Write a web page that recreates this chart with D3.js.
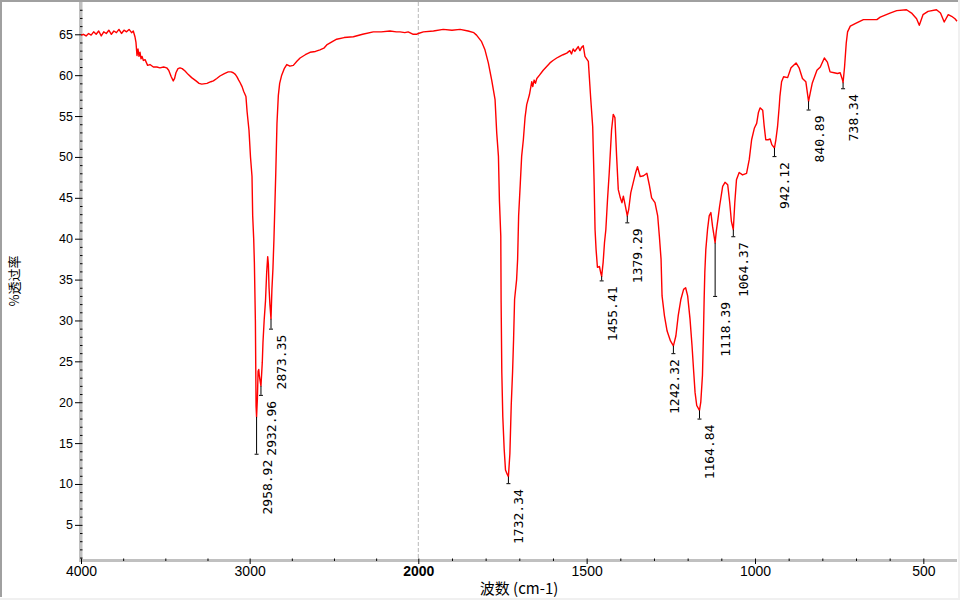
<!DOCTYPE html>
<html><head><meta charset="utf-8">
<script src="https://cdn.jsdelivr.net/npm/d3@7"></script>
<style>html,body{margin:0;padding:0;background:#fff;}svg{display:block;}</style>
</head><body>
<svg id="chart" width="960" height="600"></svg>
<script>
// ---- data ----
const wavenumbers = [
 4000,3985,3970,3955,3940,3925,3910,3895,3880,3865,3850,3835,3820,3805,3790,3775,3760,3745,3730,3715,3700,3690,
 3680,3674,3668,3662,3656,3650,3644,3638,3630,3620,3605,3591,3571,3550,3532,3510,3492,3480,3465,3453,3445,3437,
 3425,3413,3400,3383,3365,3344,3318,3300,3284,3253,3230,3215,3195,3176,3150,3127,3110,3097,3085,3075,3065,3057,
 3045,3035,3022,3015,3004,2995,2986,2982,2976,2972,2966,2962,2958.92,2954,2950,2946,2943,2938,2932.96,2925,2921,
 2914,2906,2899,2893,2889,2885,2880,2873.35,2868,2862,2856,2850,2845,2838,2830,2822,2810,2795,2780,2761,2741,2720,
 2701,2670,2642,2610,2583,2560,2543,2510,2484,2440,2385,2330,2267,2220,2168,2130,2108,2080,2060,2030,2010,
 2000,1985,1955,1926,1900,1876,1852,1835,1827,1812,1802,1792,1782,1772,1767,1762,1759,1755,1754,1752,1749,1745,
 1741,1736,1732.34,1728,1724,1720,1717,1714,1708,1705,1702,1697,1693,1688,1683,1678,1670,1666,1663,1660,1656,1652,
 1648,1640,1629,1620,1609,1600,1589,1580,1570,1559,1550,1545,1540,1535,1530,1525,1520,1515,1510,1505,1495,1488,
 1482,1478,1475,1472,1468,1462,1458,1455.41,1451,1447,1443,1438,1433,1426,1421,1416,1411,1406,1400,1395,1391,1386,
 1379.29,1375,1369,1362,1355,1349,1341,1331,1321,1314,1307,1297,1289,1284,1279,1276,1269,1261,1251,1242.32,1235,
 1228,1220,1212,1206,1200,1193,1187,1182,1178,1173,1164.84,1161,1156,1153,1151,1149,1146,1141,1136,1131,1126,
 1118.39,1115,1110,1105,1096,1089,1081,1075,1070,1064.37,1060,1055,1047,1037,1025,1017,1010,1002,995,990,985,977,
 973,968,961,955,950,942.12,938,933,928,926,921,915,903,893,878,869,859,849,840.89,836,830,823,816,806,794,785,777,
 765,755,747,740,738.34,734,729,725,717,698,678,638,628,599,579,550,535,520,512,501,486,461,449,438,426,416,406,400
];
const transmittance = [
 64.9,65.0,64.8,65.1,64.9,65.3,65.0,65.4,64.8,65.3,65.1,65.5,65.0,65.4,65.2,65.6,65.1,65.5,65.3,65.6,65.2,65.4,
 64.7,64.0,62.4,63.2,62.3,62.8,62.0,62.3,61.8,61.9,61.2,61.3,61.0,61.0,60.9,61.0,60.9,60.6,59.8,59.3,59.6,60.3,
 60.8,60.9,60.8,60.5,60.1,59.7,59.3,59.0,58.9,59.0,59.2,59.3,59.6,59.9,60.2,60.4,60.4,60.3,60.1,59.8,59.4,59.1,
 58.6,58.0,57.4,55.5,53.3,50.0,47.6,42.8,40.0,37.1,30.0,19.5,18.2,20.5,23.8,24.0,23.3,22.6,22.0,24.9,27.3,
 30.0,32.4,35.9,37.8,36.9,34.0,32.0,30.2,33.8,36.3,39.9,44.4,48.1,54.1,57.5,59.0,60.0,60.8,61.3,61.1,61.2,61.7,
 62.1,62.5,62.8,62.9,63.1,63.3,63.7,64.1,64.4,64.6,64.7,65.0,65.3,65.3,65.4,65.3,65.3,65.2,65.3,65.0,65.0,
 65.1,65.3,65.4,65.6,65.5,65.6,65.4,65.2,64.9,64.1,63.1,61.5,59.4,57.0,52.9,50.1,44.6,40.3,32.2,23.7,18.2,14.3,
 11.7,11.2,10.9,13.7,19.6,23.7,27.7,32.6,35.0,37.5,42.8,46.8,50.1,52.1,54.8,56.4,57.6,58.5,59.2,58.6,59.4,59.0,
 59.6,60.0,60.6,61.0,61.5,61.8,62.1,62.3,62.5,62.7,63.0,62.6,63.2,62.9,63.2,63.5,63.0,63.4,63.6,62.3,61.7,57.2,
 53.7,47.2,41.1,38.7,36.5,36.6,35.8,35.4,37.1,39.5,41.1,44.8,48.0,53.3,55.2,54.8,50.1,46.0,45.0,44.4,45.2,44.2,
 42.8,43.6,45.6,46.8,48.0,48.8,47.6,47.7,48.0,46.6,45.0,44.4,42.8,40.3,37.5,33.0,30.6,28.7,27.5,26.9,28.1,
 30.6,32.6,33.8,34.0,33.0,30.2,26.9,23.7,21.2,19.6,19.0,20.0,23.3,28.5,32.6,35.9,38.7,41.1,42.8,43.2,41.5,
 39.5,40.9,42.4,44.0,46.4,46.9,46.6,44.4,42.1,41.1,44.4,47.2,48.1,47.8,48.0,49.7,52.1,53.5,54.1,55.4,56.0,55.7,
 53.9,52.1,52.1,52.2,51.5,51.1,52.1,53.7,56.2,57.4,59.2,59.8,59.7,60.9,61.5,60.9,59.6,59.2,56.8,57.8,59.0,59.8,60.6,61.0,62.1,61.6,60.4,
 60.3,60.2,60.3,59.4,59.1,61.0,63.9,65.3,66.0,66.4,66.8,66.8,67.1,67.6,67.9,68.0,67.6,66.9,66.1,67.4,67.8,68.0,67.6,66.5,67.4,67.2,66.9,66.6
];
const peakWavenumbers = [2958.92, 2932.96, 2873.35, 1732.34, 1455.41, 1379.29, 1242.32, 1164.84, 1118.39, 1064.37, 942.12, 840.89, 738.34];
const peakLabels = ["2958.92","2932.96","2873.35","1732.34","1455.41","1379.29","1242.32","1164.84","1118.39","1064.37","942.12","840.89","738.34"];
const peakMarkValues = [13.7, 20.9, 29.0, 10.1, 34.9, 42.0, 26.0, 18.0, 33.0, 40.3, 50.1, 55.8, 58.4];
const xMajorTicks = [4000, 3000, 2000, 1500, 1000, 500];
const xMinorTicks = [3750,3500,3250,2750,2500,2250,1900,1800,1700,1600,1400,1300,1200,1100,900,800,700,600];
const yMajorTicks = [5,10,15,20,25,30,35,40,45,50,55,60,65];
const yMinorTicks = d3.range(1, 69).filter(v => v % 5 !== 0);
const xTitle = "波数 (cm-1)";
const yTitle = "%透过率";

// ---- drawing ----
const svg = d3.select("#chart");
const x = d3.scaleLinear().domain([4000, 2000, 400]).range([81, 418.3, 957]);
const y = d3.scaleLinear().domain([0.58, 68.95]).range([561, 2]);

// outer sunken frame
svg.append("rect").attr("x",0).attr("y",0).attr("width",960).attr("height",600).attr("fill","#fff");
svg.append("rect").attr("x",0).attr("y",0).attr("width",2).attr("height",597).attr("fill","#a0a0a0");
svg.append("rect").attr("x",0).attr("y",0).attr("width",958).attr("height",2).attr("fill","#a0a0a0");
svg.append("rect").attr("x",958).attr("y",0).attr("width",2).attr("height",600).attr("fill","#f0f0f0");
svg.append("rect").attr("x",0).attr("y",598).attr("width",960).attr("height",2).attr("fill","#f0f0f0");

// axis bars
svg.append("rect").attr("x",79).attr("y",2).attr("width",3.5).attr("height",560).attr("fill","#c0c0c0");
svg.append("rect").attr("x",79).attr("y",559).attr("width",878).attr("height",3).attr("fill","#c0c0c0");

// dashed scale-break line at 2000
svg.append("line").attr("x1",x(2000)).attr("x2",x(2000)).attr("y1",2).attr("y2",559)
  .attr("stroke","#b8b8b8").attr("stroke-width",1).attr("stroke-dasharray","4,2");

// y axis
const yMinor = svg.append("g").attr("transform","translate(82.5,0)")
  .call(d3.axisLeft(y).tickValues(yMinorTicks).tickSize(2.5).tickFormat(""));
const yMajor = svg.append("g").attr("transform","translate(82.5,0)")
  .call(d3.axisLeft(y).tickValues(yMajorTicks).tickSize(7.5).tickPadding(2));
[yMinor, yMajor].forEach(g => { g.select(".domain").remove(); g.selectAll("line").attr("stroke","#000"); });
yMajor.selectAll("text").attr("font-family","'Liberation Sans',Arial,sans-serif").attr("font-size","12.5px").attr("fill","#000");

// x axis
const xMinor = svg.append("g").attr("transform","translate(0,558.5)")
  .call(d3.axisBottom(x).tickValues(xMinorTicks).tickSize(2.5).tickFormat(""));
const xMajor = svg.append("g").attr("transform","translate(0,558.5)")
  .call(d3.axisBottom(x).tickValues(xMajorTicks).tickSize(5.5).tickPadding(2.5).tickFormat(d3.format("d")));
[xMinor, xMajor].forEach(g => { g.select(".domain").remove(); g.selectAll("line").attr("stroke","#000"); });
xMajor.selectAll("text").attr("font-family","'Liberation Sans',Arial,sans-serif").attr("font-size","14px").attr("fill","#000")
  .attr("font-weight", d => d === 2000 ? "bold" : "normal");

// titles
svg.append("text").attr("x",519).attr("y",594).attr("text-anchor","middle")
  .attr("font-family","'Noto Sans CJK SC',sans-serif").attr("font-size","15px").attr("fill","#000").text(xTitle);
svg.append("text").attr("transform","translate(13,281) rotate(-90)").attr("text-anchor","middle")
  .attr("dominant-baseline","central")
  .attr("font-family","'Noto Sans CJK SC',sans-serif").attr("font-size","13px").attr("fill","#000").text(yTitle);

// spectrum
const spectrum = wavenumbers.map((w, i) => [w, transmittance[i]]);
svg.append("path").datum(spectrum)
  .attr("fill","none").attr("stroke","#ff0000").attr("stroke-width",1.4).attr("stroke-linejoin","round")
  .attr("d", d3.line().x(d => x(d[0])).y(d => y(d[1])));

// peak markers and labels
const labelNudge = {"1242.32": -9.5};
peakWavenumbers.forEach((w, i) => {
  const idx = wavenumbers.indexOf(w);
  const curveVal = transmittance[idx];
  const px = x(w), py0 = y(curveVal), py1 = y(peakMarkValues[i]);
  svg.append("line").attr("x1",px).attr("x2",px).attr("y1",py0).attr("y2",py1)
    .attr("stroke","#000").attr("stroke-width",1);
  svg.append("line").attr("x1",px-2).attr("x2",px+2).attr("y1",py1+0.5).attr("y2",py1+0.5)
    .attr("stroke","#000").attr("stroke-width",1);
  const tx = px + 15 + (labelNudge[peakLabels[i]] || 0);
  const ty = py1 + 6;
  svg.append("text").attr("transform",`translate(${tx},${ty}) rotate(-90)`)
    .attr("text-anchor","end")
    .attr("font-family","'DejaVu Sans Mono','Liberation Mono',monospace").attr("font-size","13px")
    .attr("fill","#000").text(peakLabels[i]);
});
</script>
</body></html>
